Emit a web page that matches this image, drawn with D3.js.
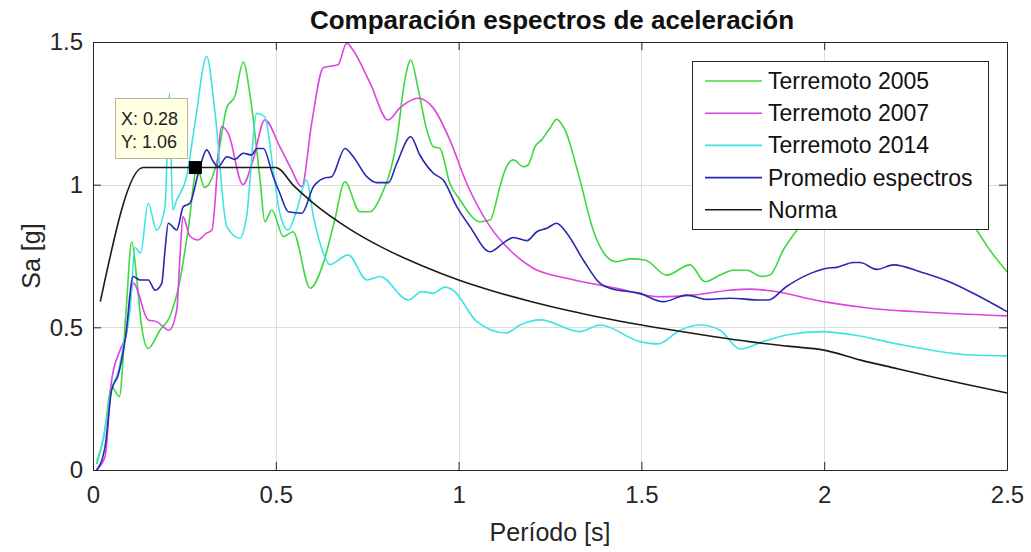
<!DOCTYPE html>
<html>
<head>
<meta charset="utf-8">
<script src="https://cdn.jsdelivr.net/npm/d3@7"></script>
<style>
  html, body { margin: 0; padding: 0; background: #fff; }
  svg { display: block; font-family: "Liberation Sans", Arial, Helvetica, sans-serif; }
</style>
</head>
<body>
<svg id="chart" width="1031" height="552"></svg>
<script>
// Periods T [s] and spectral accelerations Sa [g] for each record
const t2005 = [0.01,0.03,0.051,0.072,0.09,0.106,0.12,0.133,0.151,0.183,0.21,0.238,0.26,0.285,0.305,0.338,0.366,0.388,0.411,0.43,0.457,0.47,0.489,0.521,0.547,0.594,0.63,0.66,0.689,0.73,0.758,0.785,0.831,0.853,0.869,0.89,0.913,0.931,0.949,0.976,1.004,1.059,1.086,1.113,1.127,1.15,1.177,1.19,1.209,1.227,1.25,1.268,1.291,1.332,1.368,1.405,1.432,1.47,1.51,1.569,1.633,1.674,1.715,1.751,1.788,1.829,1.852,1.888,1.925,2.0,2.1,2.2,2.3,2.417,2.453,2.5];
const sa2005 = [0.02,0.12,0.292,0.257,0.55,0.80,0.666,0.502,0.426,0.49,0.537,0.666,0.84,1.06,0.99,1.075,1.27,1.31,1.43,1.31,1.016,0.87,0.911,0.818,0.835,0.637,0.725,0.87,1.01,0.905,0.905,0.953,1.157,1.367,1.437,1.332,1.192,1.133,1.127,1.005,0.946,0.87,0.876,0.993,1.051,1.087,1.063,1.069,1.133,1.157,1.198,1.229,1.192,1.016,0.841,0.748,0.73,0.74,0.736,0.683,0.719,0.66,0.683,0.70,0.70,0.678,0.683,0.771,0.84,0.95,1.0,1.02,0.99,0.84,0.771,0.695];

const t2007 = [0.01,0.033,0.051,0.074,0.092,0.11,0.151,0.174,0.208,0.229,0.238,0.246,0.265,0.287,0.31,0.325,0.352,0.37,0.41,0.438,0.47,0.511,0.539,0.571,0.598,0.63,0.67,0.694,0.711,0.758,0.807,0.84,0.889,0.93,0.976,1.022,1.086,1.14,1.204,1.296,1.432,1.551,1.641,1.742,1.797,1.852,1.997,2.125,2.308,2.5];
const sa2007 = [0.0,0.047,0.315,0.42,0.48,0.655,0.526,0.52,0.49,0.56,0.748,0.888,0.82,0.806,0.83,0.84,1.203,1.18,1.0,1.087,1.227,1.133,1.063,0.993,1.215,1.41,1.42,1.496,1.472,1.356,1.227,1.27,1.303,1.27,1.157,1.005,0.853,0.771,0.707,0.672,0.637,0.607,0.613,0.63,0.634,0.628,0.59,0.567,0.551,0.54];

const t2014 = [0.01,0.028,0.05,0.07,0.085,0.101,0.115,0.13,0.151,0.174,0.197,0.209,0.218,0.229,0.256,0.279,0.311,0.334,0.366,0.402,0.42,0.448,0.47,0.493,0.511,0.534,0.557,0.584,0.603,0.63,0.648,0.698,0.749,0.785,0.862,0.899,0.93,0.963,0.985,1.05,1.13,1.168,1.223,1.332,1.387,1.496,1.545,1.606,1.66,1.715,1.77,1.833,1.897,1.997,2.08,2.216,2.40,2.5];
const sa2014 = [0.03,0.111,0.28,0.35,0.45,0.555,0.78,0.76,0.935,0.841,0.923,1.32,0.911,0.946,1.028,1.215,1.449,1.25,0.853,0.812,0.888,1.25,1.238,1.051,0.9,0.841,0.91,1.016,0.888,0.76,0.72,0.754,0.666,0.678,0.596,0.625,0.62,0.641,0.63,0.52,0.48,0.508,0.526,0.485,0.508,0.45,0.442,0.49,0.508,0.49,0.424,0.45,0.473,0.485,0.473,0.438,0.403,0.40];

const tMean = [0.01,0.033,0.051,0.069,0.088,0.11,0.129,0.151,0.17,0.188,0.197,0.206,0.229,0.247,0.265,0.288,0.311,0.329,0.343,0.366,0.388,0.411,0.434,0.448,0.466,0.493,0.511,0.534,0.571,0.603,0.63,0.653,0.689,0.712,0.749,0.776,0.808,0.831,0.869,0.894,0.931,0.958,0.995,1.031,1.086,1.122,1.15,1.187,1.214,1.241,1.268,1.296,1.341,1.387,1.414,1.496,1.56,1.624,1.679,1.742,1.824,1.847,1.897,1.952,2.007,2.034,2.08,2.098,2.144,2.19,2.262,2.353,2.426,2.5];
const saMean = [0.0,0.082,0.28,0.333,0.456,0.678,0.666,0.666,0.63,0.654,0.771,0.865,0.841,0.923,0.935,1.04,1.122,1.081,1.063,1.098,1.089,1.11,1.104,1.127,1.127,1.028,0.97,0.905,0.90,0.993,1.022,1.028,1.127,1.098,1.028,1.007,1.007,1.075,1.168,1.104,1.04,1.016,0.923,0.853,0.765,0.795,0.815,0.804,0.835,0.847,0.865,0.83,0.736,0.654,0.637,0.619,0.59,0.613,0.598,0.602,0.596,0.596,0.643,0.683,0.707,0.71,0.727,0.727,0.703,0.719,0.695,0.654,0.607,0.555];

const tNorma = [0.02,0.137,0.5,0.55,0.6,0.7,0.8,0.9,1.0,1.1,1.2,1.3,1.4,1.5,1.6,1.7,1.8,1.9,2.0,2.1,2.2,2.3,2.4,2.5];
const saNorma = [0.59,1.06,1.06,0.995,0.938,0.846,0.774,0.716,0.666,0.625,0.59,0.559,0.532,0.508,0.487,0.467,0.449,0.434,0.42,0.385,0.355,0.325,0.297,0.27];

const seriesNames = ["Terremoto 2005","Terremoto 2007","Terremoto 2014","Promedio espectros","Norma"];
const seriesColors = ["#3fd83f","#dd44dd","#3ee4e4","#2828b0","#1a1a1a"];

const xTicks = [0,0.5,1,1.5,2,2.5];
const yTicks = [0,0.5,1,1.5];
const xTickLabels = ["0","0.5","1","1.5","2","2.5"];
const yTickLabels = ["0","0.5","1","1.5"];

const tipT = 0.28, tipSa = 1.06;

const svg = d3.select("#chart");
const W = 1031, H = 552;
const m = {left: 93, top: 42, right: 1007, bottom: 470};

const x = d3.scaleLinear().domain([0, 2.5]).range([m.left, m.right]);
const y = d3.scaleLinear().domain([0, 1.5]).range([m.bottom, m.top]);

svg.append("rect").attr("width", W).attr("height", H).attr("fill", "#fff");

// grid
const grid = svg.append("g").attr("stroke", "#dcdcdc").attr("stroke-width", 1);
xTicks.forEach(v => grid.append("line")
  .attr("x1", Math.round(x(v)) + 0.5).attr("x2", Math.round(x(v)) + 0.5)
  .attr("y1", m.top).attr("y2", m.bottom));
yTicks.forEach(v => grid.append("line")
  .attr("y1", Math.round(y(v)) + 0.5).attr("y2", Math.round(y(v)) + 0.5)
  .attr("x1", m.left).attr("x2", m.right));

// curves
svg.append("clipPath").attr("id", "plotclip").append("rect")
  .attr("x", m.left).attr("y", m.top).attr("width", m.right - m.left).attr("height", m.bottom - m.top);

const line = d3.line().x(d => x(d[0])).y(d => y(d[1])).curve(d3.curveMonotoneX);
const series = [
  d3.zip(t2005, sa2005),
  d3.zip(t2007, sa2007),
  d3.zip(t2014, sa2014),
  d3.zip(tMean, saMean),
  d3.zip(tNorma, saNorma)
];
const lines = svg.append("g").attr("clip-path", "url(#plotclip)");
series.forEach((s, i) => lines.append("path")
  .datum(s)
  .attr("d", line)
  .attr("fill", "none")
  .attr("stroke", seriesColors[i])
  .attr("stroke-width", 1.6)
  .attr("stroke-linejoin", "round"));

// axes box with inward ticks on all sides
const axisCol = "#262626";
const xB = d3.axisBottom(x).tickValues(xTicks).tickFormat((d, i) => xTickLabels[i]).tickSizeInner(-8).tickSizeOuter(0).tickPadding(16);
const yL = d3.axisLeft(y).tickValues(yTicks).tickFormat((d, i) => yTickLabels[i]).tickSizeInner(-8).tickSizeOuter(0).tickPadding(10);
const xT = d3.axisTop(x).tickValues(xTicks).tickFormat("").tickSizeInner(-8).tickSizeOuter(0);
const yR = d3.axisRight(y).tickValues(yTicks).tickFormat("").tickSizeInner(-8).tickSizeOuter(0);

function styleAxis(g) {
  g.select(".domain").attr("stroke", axisCol);
  g.selectAll(".tick line").attr("stroke", axisCol);
  g.selectAll(".tick text").attr("fill", "#262626")
    .style("font-family", "'Liberation Sans', Arial, sans-serif").style("font-size", "24px");
}
svg.append("g").attr("transform", `translate(0,${m.bottom})`).call(xB).call(styleAxis);
svg.append("g").attr("transform", `translate(${m.left},0)`).call(yL).call(styleAxis);
svg.append("g").attr("transform", `translate(0,${m.top})`).call(xT).call(styleAxis);
svg.append("g").attr("transform", `translate(${m.right},0)`).call(yR).call(styleAxis);

// labels
svg.append("text").attr("x", 552).attr("y", 29).attr("text-anchor", "middle")
  .attr("font-weight", "bold").attr("font-size", 26).attr("fill", "#111")
  .text("Comparación espectros de aceleración");
svg.append("text").attr("x", 550).attr("y", 541).attr("text-anchor", "middle")
  .attr("font-size", 25).attr("fill", "#262626").text("Período [s]");
svg.append("text").attr("transform", "translate(40,256) rotate(-90)").attr("text-anchor", "middle")
  .attr("font-size", 25).attr("fill", "#262626").text("Sa [g]");

// legend
const lg = svg.append("g");
lg.append("rect").attr("x", 692.5).attr("y", 61.5).attr("width", 296).attr("height", 168)
  .attr("fill", "#fff").attr("stroke", "#262626").attr("stroke-width", 1);
seriesNames.forEach((name, i) => {
  const yy = 81 + i * 32.2;
  lg.append("line").attr("x1", 705).attr("x2", 762).attr("y1", yy).attr("y2", yy)
    .attr("stroke", seriesColors[i]).attr("stroke-width", 1.6);
  lg.append("text").attr("x", 768).attr("y", yy).attr("dy", "0.35em")
    .attr("font-size", 23).attr("fill", "#111").text(name);
});

// data tip
svg.append("rect").attr("x", x(tipT) - 6.5).attr("y", y(tipSa) - 6.5).attr("width", 13).attr("height", 13).attr("fill", "#000");
const tip = svg.append("g");
tip.append("rect").attr("x", 115.5).attr("y", 98.5).attr("width", 72).attr("height", 60)
  .attr("fill", "#ffffe1").attr("stroke", "#b4b4a0").attr("stroke-width", 1);
tip.append("text").attr("x", 121).attr("y", 125).attr("font-size", 18).attr("fill", "#222").text("X: " + tipT.toFixed(2));
tip.append("text").attr("x", 121).attr("y", 148).attr("font-size", 18).attr("fill", "#222").text("Y: " + tipSa.toFixed(2));
</script>
</body>
</html>
